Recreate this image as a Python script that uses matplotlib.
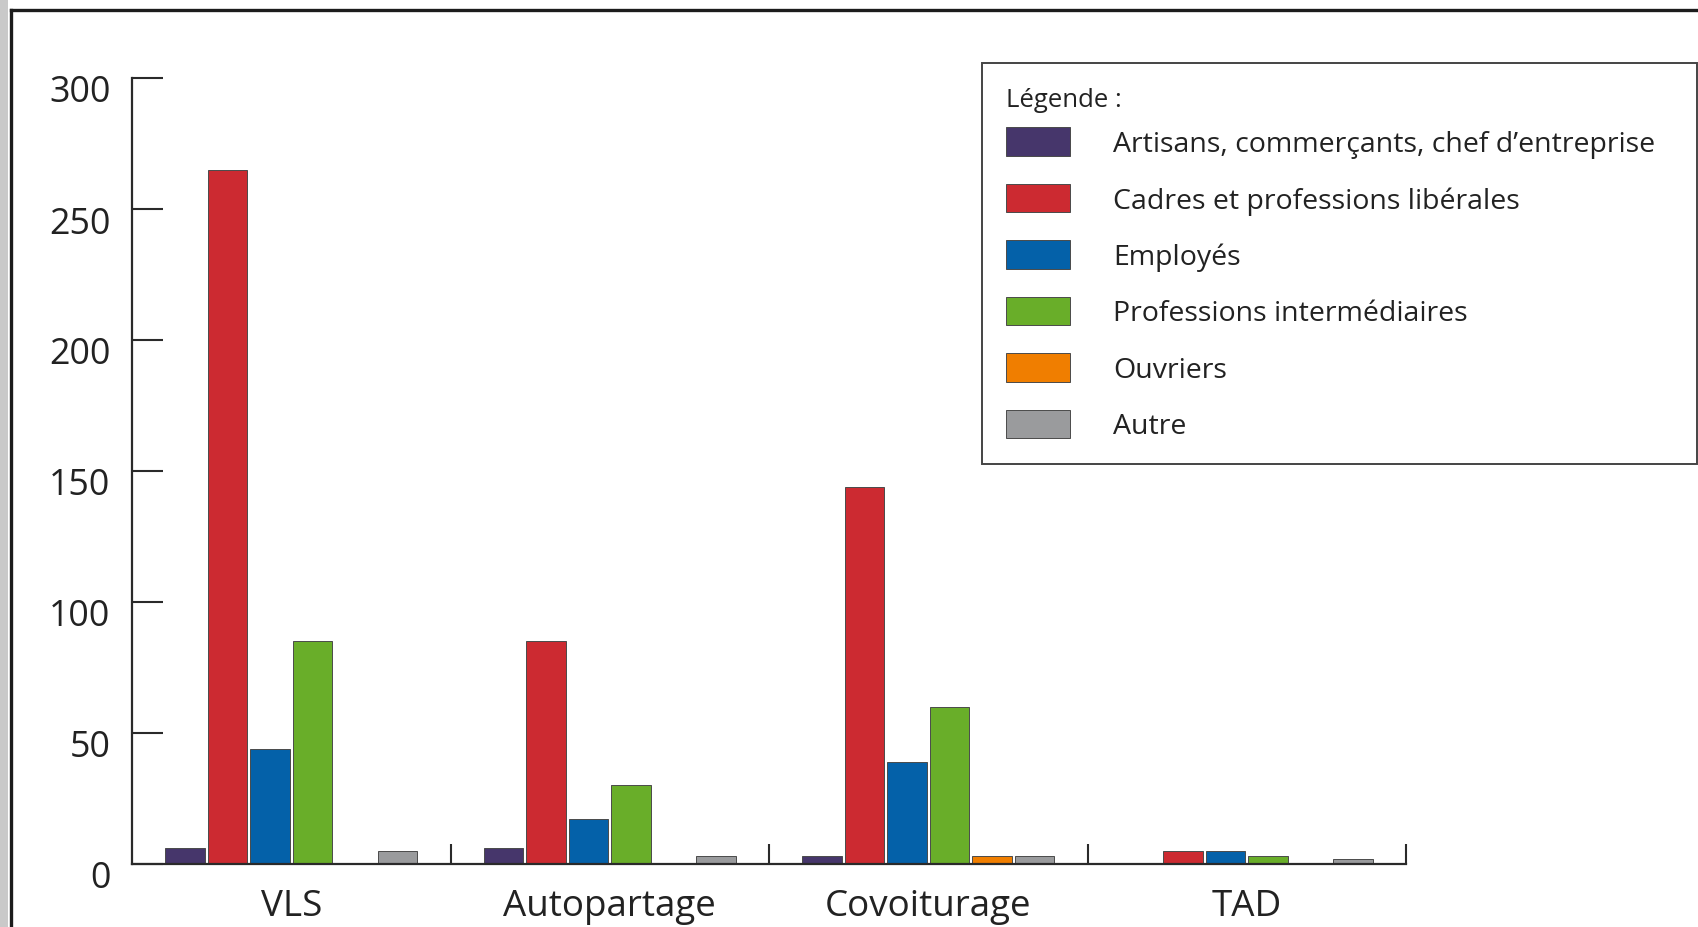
import matplotlib
matplotlib.use("Agg")
import matplotlib.pyplot as plt
import matplotlib.transforms as mtransforms
from matplotlib.patches import Rectangle
from matplotlib.lines import Line2D
import numpy as np

plt.rcParams['font.family'] = ['Open Sans', 'DejaVu Sans']

# ---- data ----
groups = ["VLS", "Autopartage", "Covoiturage", "TAD"]
series_names = ["Artisans, commerçants, chef d’entreprise",
                "Cadres et professions libérales",
                "Employés",
                "Professions intermédiaires",
                "Ouvriers",
                "Autre"]
artisans = [6, 6, 3, 0]
cadres = [265, 85, 144, 5]
employes = [44, 17, 39, 5]
prof_inter = [85, 30, 60, 3]
ouvriers = [0, 0, 3, 0]
autre = [5, 3, 3, 2]
series_values = [artisans, cadres, employes, prof_inter, ouvriers, autre]
colors = ["#46366b", "#cc2a31", "#0461a9", "#69ae29", "#f07e00", "#9a9b9d"]
yticks = [0, 50, 100, 150, 200, 250, 300]

W, H = 1699, 928
DPI = 100
fig = plt.figure(figsize=(W / DPI, H / DPI), dpi=DPI)
fig.patch.set_facecolor("white")

# frame decorations
fig.add_artist(Rectangle((0, 0), 8 / W, 1, transform=fig.transFigure,
                         facecolor="#c9c9c9", edgecolor="none", zorder=0))
fig.add_artist(Line2D([11 / W, 1], [1 - 11 / H, 1 - 11 / H], transform=fig.transFigure,
                      color="#1c1c1c", lw=2.4))
fig.add_artist(Line2D([11 / W, 11 / W], [0, 1 - 11 / H], transform=fig.transFigure,
                      color="#1c1c1c", lw=2.4))

ax_left, ax_right = 132 / W, 1406 / W
ax_bottom, ax_top = 1 - 865 / H, 1 - 79 / H
ax = fig.add_axes([ax_left, ax_bottom, ax_right - ax_left, ax_top - ax_bottom])
ax.set_facecolor("none")

x = np.arange(len(groups))
slot = 0.1333
width = 0.124
bars = []
for k, (vals, col, name) in enumerate(zip(series_values, colors, series_names)):
    b = ax.bar(x + (k - 2.5) * slot, vals, width=width, color=col,
               edgecolor="#4a4a4a", linewidth=0.7, label=name, zorder=2)
    bars.append(b)

ax.set_xlim(-0.5, len(groups) - 0.5)
ax.set_ylim(0, 300)

for s in ["top", "right"]:
    ax.spines[s].set_visible(False)
for s in ["left", "bottom"]:
    ax.spines[s].set_color("#2a2a2a")
    ax.spines[s].set_linewidth(1.6)

ax.set_yticks(yticks)
ax.set_yticklabels([str(v) for v in yticks])
ax.tick_params(axis="y", direction="in", length=22, width=1.5, color="#2a2a2a",
               pad=15.5, labelsize=25.8, labelcolor="#222222")
offset = mtransforms.ScaledTranslation(0, -10 / DPI, fig.dpi_scale_trans)
for lab in ax.get_yticklabels():
    lab.set_transform(lab.get_transform() + offset)

ax.set_xticks(x)
ax.set_xticklabels(groups)
ax.tick_params(axis="x", which="major", length=0, pad=17.5, labelsize=26.5,
               labelcolor="#222222")
ax.set_xticks(np.arange(len(groups)) + 0.5, minor=True)
ax.tick_params(axis="x", which="minor", direction="in", length=14.4, width=1.5,
               color="#2a2a2a")

fs = 20.5
fpx = fs * DPI / 72
leg = fig.legend(handles=bars, labels=series_names, loc="upper left",
                 bbox_to_anchor=(982 / W, 1 - 464 / H, 715 / W, 400 / H),
                 mode="expand", borderaxespad=0, fontsize=fs,
                 title="Légende :", title_fontsize=18.5, alignment="left",
                 handlelength=64 / fpx, handleheight=33 / fpx,
                 handletextpad=43 / fpx,
                 labelspacing=0.9, borderpad=24 / fpx, frameon=True, fancybox=False,
                 framealpha=1, edgecolor="#444444")
# tighter gap between the title and the first entry
leg._legend_box.sep = 0.9 * fs - 7.5
leg.get_frame().set_linewidth(1.4)
for t in leg.get_texts():
    t.set_color("#222222")
leg.get_title().set_color("#222222")

fig.savefig("out.png", dpi=DPI)
